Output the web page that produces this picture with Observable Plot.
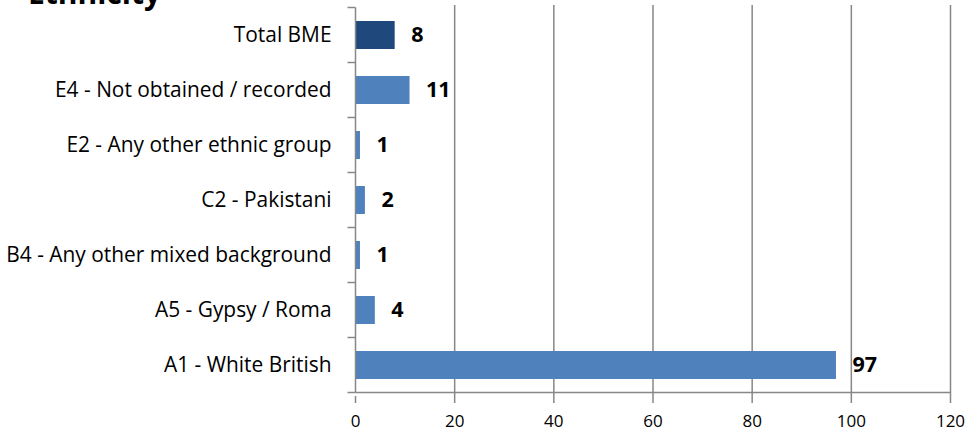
<!DOCTYPE html>
<html>
<head>
<meta charset="utf-8">
<script src="https://cdn.jsdelivr.net/npm/d3@7"></script>
<script src="https://cdn.jsdelivr.net/npm/@observablehq/plot@0.6"></script>
<style>
  html, body { margin: 0; padding: 0; background: #fff; overflow: hidden; }
  #wrap { position: relative; width: 965px; height: 436px; }
  #title { position: absolute; left: 28px; top: -22px; line-height: 1; font-family: "Open Sans", sans-serif; font-weight: bold; font-size: 30px; color: #000; }
  svg { display: block; }
</style>
</head>
<body>
<div id="wrap"><div id="title">Ethnicity</div></div>
<script>
const categories = [
  "Total BME",
  "E4 - Not obtained / recorded",
  "E2 - Any other ethnic group",
  "C2 - Pakistani",
  "B4 - Any other mixed background",
  "A5 - Gypsy / Roma",
  "A1 - White British"
];
const values = [8, 11, 1, 2, 1, 4, 97];
const highlight = ["Total BME"];
const xTicks = [0, 20, 40, 60, 80, 100, 120];

const data = categories.map((c, i) => ({category: c, value: values[i], total: highlight.includes(c)}));

const gridColor = "#878787";

function yAxisFrame(index, scales, values, dimensions) {
  const g = d3.create("svg:g");
  const y = scales.y;
  const step = y.step();
  const x0 = dimensions.marginLeft + 0.5;
  const x1 = dimensions.width - dimensions.marginRight;
  const tops = categories.map(c => y(c) - (step - y.bandwidth()) / 2);
  const bottom = tops[tops.length - 1] + step;
  tops.push(bottom);
  g.append("line").attr("x1", x0).attr("x2", x1)
    .attr("y1", bottom).attr("y2", bottom)
    .attr("stroke", gridColor).attr("stroke-width", 1.5);
  g.append("line").attr("x1", x0).attr("x2", x0)
    .attr("y1", tops[0]).attr("y2", bottom)
    .attr("stroke", gridColor).attr("stroke-width", 1.5);
  for (const t of tops) {
    g.append("line").attr("x1", x0 - 8).attr("x2", x0)
      .attr("y1", t).attr("y2", t)
      .attr("stroke", gridColor).attr("stroke-width", 1.5);
  }
  return g.node();
}

const chart = Plot.plot({
  width: 965,
  height: 436,
  marginLeft: 355,
  marginRight: 15,
  marginTop: 5,
  marginBottom: 40,
  style: {fontFamily: "'Open Sans', sans-serif", background: "#fff", color: "#000"},
  x: {domain: [0, 120], ticks: xTicks, label: null},
  y: {domain: categories, paddingInner: 0.49, paddingOuter: 0.245, label: null},
  marks: [
    Plot.ruleX(xTicks.filter(t => t > 0), {stroke: gridColor, strokeWidth: 1.5}),
    Plot.barX(data, {x: "value", y: "category", fill: d => d.total ? "#1F497D" : "#4F81BD"}),
    yAxisFrame,
    Plot.axisX({ticks: xTicks, tickSize: 7, tickPadding: 11, fontSize: 17, stroke: gridColor, strokeWidth: 1.5, label: null, tickFormat: d => d}),
    Plot.axisY({tickSize: 0, tickPadding: 24, fontSize: 20.9, label: null}),
    Plot.text(data, {x: "value", y: "category", text: d => String(d.value), textAnchor: "start", dx: 16, fontSize: 21.5, fontWeight: "bold", fill: "#000"})
  ]
});
document.getElementById("wrap").prepend(chart);
</script>
</body>
</html>
